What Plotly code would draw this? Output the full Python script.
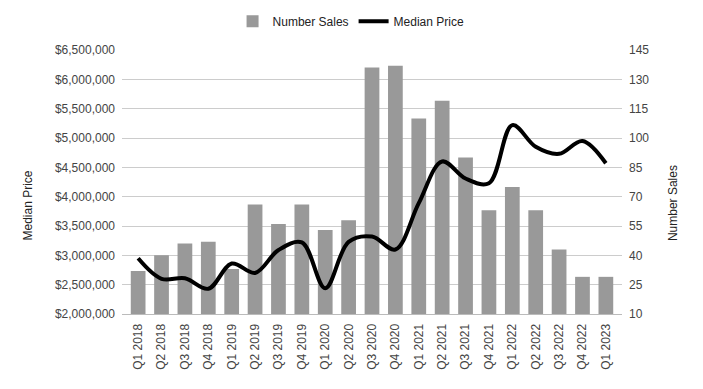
import plotly.graph_objects as go

quarters = ["Q1 2018", "Q2 2018", "Q3 2018", "Q4 2018", "Q1 2019", "Q2 2019", "Q3 2019",
            "Q4 2019", "Q1 2020", "Q2 2020", "Q3 2020", "Q4 2020", "Q1 2021", "Q2 2021",
            "Q3 2021", "Q4 2021", "Q1 2022", "Q2 2022", "Q3 2022", "Q4 2022", "Q1 2023"]
number_sales = [32, 40, 46, 47, 33, 66, 56, 66, 53, 58, 136, 137, 110, 119, 90, 63, 75, 63, 43, 29, 29]
median_price = [2950000, 2600000, 2610000, 2430000, 2860000, 2700000, 3090000, 3220000, 2440000,
                3230000, 3320000, 3100000, 3890000, 4600000, 4310000, 4230000, 5220000, 4850000,
                4730000, 4950000, 4570000]

left_ticks = list(range(2000000, 6500001, 500000))
right_ticks = list(range(10, 146, 15))

FONT = "Liberation Sans, Arial, sans-serif"

fig = go.Figure()
fig.add_trace(go.Bar(
    x=quarters, y=number_sales, name="Number Sales", yaxis="y",
    marker=dict(color="#999999", line=dict(width=0)),
))
fig.add_trace(go.Scatter(
    x=quarters, y=median_price, name="Median Price", yaxis="y2",
    mode="lines", line=dict(color="#000000", width=4, shape="spline", smoothing=1),
))

fig.update_layout(
    width=703, height=389,
    margin=dict(l=114, r=89, t=42, b=83, autoexpand=False),
    paper_bgcolor="white", plot_bgcolor="white",
    font=dict(family=FONT, size=12, color="#444444"),
    bargap=0.37,
    showlegend=True,
    legend=dict(orientation="h", xref="container", yref="container",
                x=0.488, xanchor="center", y=0.966, yanchor="middle",
                font=dict(size=12, color="#222222"), traceorder="normal",
                itemwidth=30),
    xaxis=dict(
        type="category", range=[-0.69, 20.69], tickangle=-90, automargin=False,
        showgrid=False, showline=True, linecolor="#bbbbbb", linewidth=1,
        ticks="", tickfont=dict(size=12, color="#444444"), ticklabelstandoff=4,
        fixedrange=True,
    ),
    yaxis=dict(
        side="right", range=[10, 145], tickvals=right_ticks, automargin=False,
        showgrid=True, gridcolor="#cccccc", gridwidth=1, zeroline=False,
        ticks="", tickfont=dict(size=12, color="#444444"), ticklabelstandoff=6,
    ),
    yaxis2=dict(
        side="left", overlaying="y", range=[2000000, 6500000], tickvals=left_ticks,
        tickformat="$,.0f", showgrid=False, zeroline=False, automargin=False,
        ticks="", tickfont=dict(size=12, color="#444444"), ticklabelstandoff=6,
    ),
    annotations=[
        dict(text="Median Price", xref="paper", yref="paper", x=-0.187, y=0.409,
             xanchor="center", yanchor="middle", textangle=-90, showarrow=False,
             font=dict(size=12, color="#222222")),
        dict(text="Number Sales", xref="paper", yref="paper", x=1.102, y=0.42,
             xanchor="center", yanchor="middle", textangle=-90, showarrow=False,
             font=dict(size=12, color="#222222")),
    ],
)

fig.write_html("out.html")
